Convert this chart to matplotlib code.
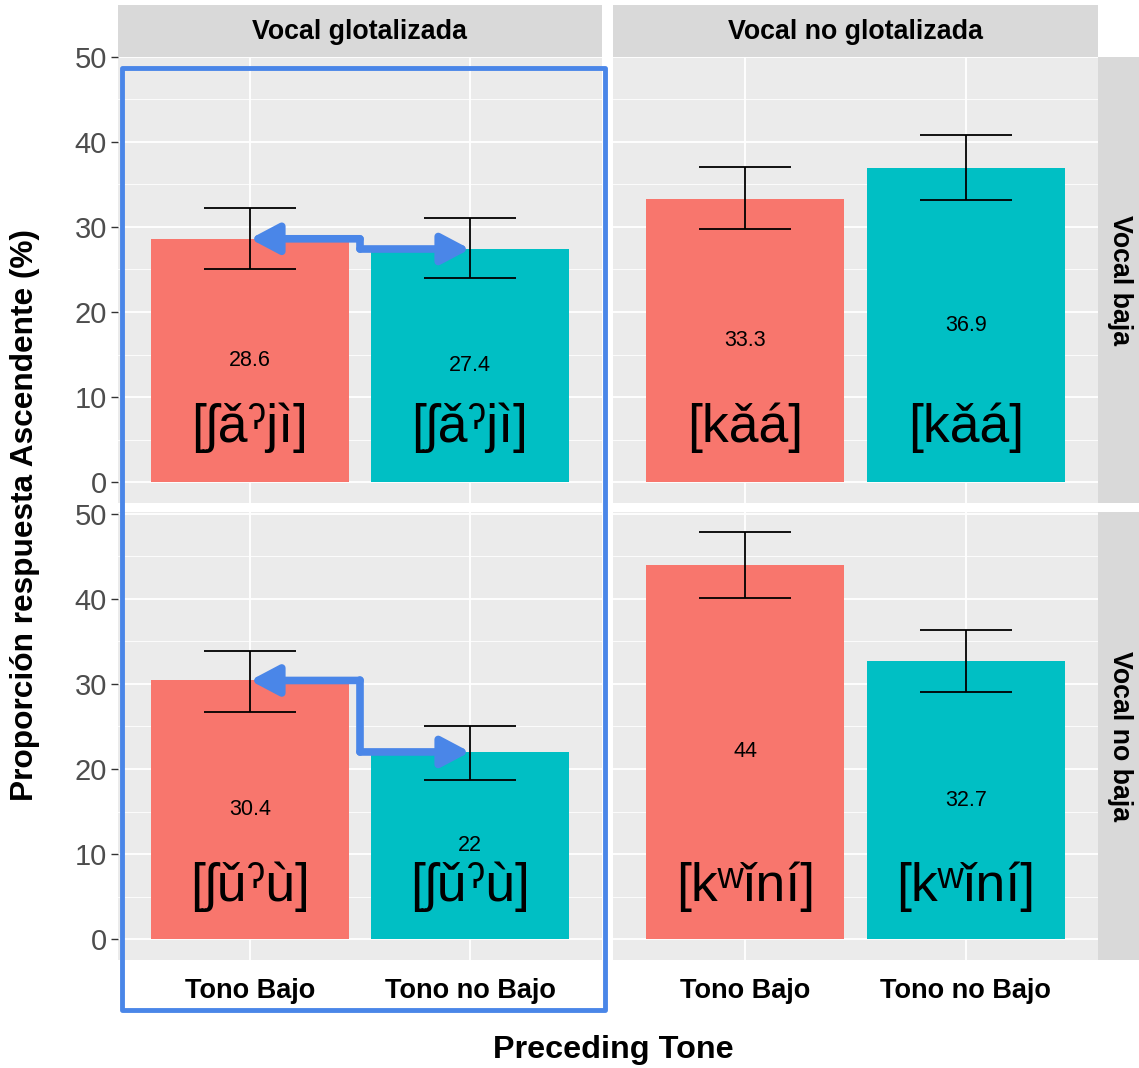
import matplotlib.pyplot as plt
from matplotlib.patches import Rectangle
import numpy as np

plt.rcParams['font.family'] = ['Liberation Sans', 'DejaVu Sans']

# data
tones = ["Tono Bajo", "Tono no Bajo"]
col_labels = ["Vocal glotalizada", "Vocal no glotalizada"]
row_labels = ["Vocal baja", "Vocal no baja"]

# [row][col] -> values for (Tono Bajo, Tono no Bajo)
means = [[[28.6, 27.4], [33.3, 36.9]],
         [[30.4, 22.0], [44.0, 32.7]]]
err_lo = [[[25.1, 24.0], [29.7, 33.2]],
          [[26.7, 18.7], [40.1, 29.1]]]
err_hi = [[[32.2, 31.0], [37.0, 40.8]],
          [[33.9, 25.1], [47.8, 36.3]]]
words = [["[ʃǎˀjì]", "[kǎá]"],
         ["[ʃǔˀù]", "[kʷǐní]"]]

bar_colors = ["#F8766D", "#00BFC4"]
blue = "#4A86E8"

W, H = 1139, 1068
fig = plt.figure(figsize=(W / 100, H / 100), dpi=100)

def fx(px):
    return px / W

def fy(py):
    return 1 - py / H

col_x = [(118, 602), (613, 1098)]
row_y = [(55, 503), (512, 960)]

x = np.arange(1, 3)
axes = [[None, None], [None, None]]
for r in range(2):
    for c in range(2):
        x0, x1 = col_x[c]
        y0, y1 = row_y[r]
        ax = fig.add_axes([fx(x0), fy(y1), fx(x1 - x0), (y1 - y0) / H])
        axes[r][c] = ax
        ax.set_facecolor("#EBEBEB")
        for s in ax.spines.values():
            s.set_visible(False)
        ax.set_xlim(0.4, 2.6)
        ax.set_ylim(-2.45, 50.2)
        for yv in np.arange(5, 50, 10):
            ax.axhline(yv, color="white", lw=0.6, zorder=0)
        for yv in np.arange(0, 51, 10):
            ax.axhline(yv, color="white", lw=1.3, zorder=0)
        for xv in x:
            ax.axvline(xv, color="white", lw=1.3, zorder=0)
        m = means[r][c]
        lo = np.array(err_lo[r][c])
        hi = np.array(err_hi[r][c])
        ax.bar(x, m, width=0.9, color=bar_colors, zorder=2)
        ax.errorbar(x, m, yerr=[np.array(m) - lo, hi - np.array(m)], fmt="none",
                    ecolor="black", elinewidth=1.3, capsize=33, capthick=1.3, zorder=3)
        for xi, v in zip(x, m):
            ax.text(xi, v / 2, f"{v:g}", ha="center", va="center", fontsize=15.5, zorder=4)
            ax.text(xi, 6.4 if r == 0 else 6.1, words[r][c], ha="center", va="center",
                    fontsize=38.5, zorder=4)
        ax.set_yticks(np.arange(0, 51, 10))
        ax.set_xticks(x)
        ax.tick_params(axis="y", colors="#333333", length=5, width=1, labelsize=21,
                       labelcolor="#4D4D4D", pad=3)
        ax.tick_params(axis="x", colors="#333333", length=0, labelsize=19.5, pad=13)
        if c == 1:
            ax.tick_params(axis="y", length=0, labelleft=False)
        if r == 0:
            ax.set_xticklabels([])
        else:
            ax.set_xticklabels(tones, fontweight="bold", color="black")

# strips on top
for c in range(2):
    x0, x1 = col_x[c]
    fig.patches.append(Rectangle((fx(x0), fy(57)), fx(x1 - x0), (57 - 5) / H,
                                 transform=fig.transFigure, facecolor="#D9D9D9",
                                 edgecolor="none", zorder=1))
    fig.text(fx((x0 + x1) / 2), fy(32), col_labels[c], ha="center", va="center",
             fontsize=19.3, fontweight="bold", color="black")

# strips on right
for r in range(2):
    y0, y1 = row_y[r]
    y0 = max(y0, 57)
    fig.patches.append(Rectangle((fx(1098), fy(y1)), fx(1139 - 1098), (y1 - y0) / H,
                                 transform=fig.transFigure, facecolor="#D9D9D9",
                                 edgecolor="none", zorder=1))
    fig.text(fx(1120), fy((y0 + y1) / 2), row_labels[r], ha="center", va="center",
             rotation=-90, fontsize=19.3, fontweight="bold", color="black")

fig.text(fx(25), fy(515), "Proporción respuesta Ascendente (%)", rotation=90,
         ha="center", va="center", fontsize=22.8, fontweight="bold")
fig.text(fx(613), fy(1050), "Preceding Tone", ha="center", va="center",
         fontsize=23.3, fontweight="bold")

# blue highlight box
fig.patches.append(Rectangle((fx(122), fy(1010)), fx(605 - 122), (1010 - 68) / H,
                             transform=fig.transFigure, facecolor="none",
                             edgecolor=blue, lw=3.5, joinstyle="round", zorder=10))

# blue step arrows on the left column
for r in range(2):
    ax = axes[r][0]
    v1, v2 = means[r][0]
    ax.plot([1.5, 1.5], [v1, v2], color=blue, lw=5.5, solid_capstyle="round", zorder=5)
    arrow = dict(arrowstyle="-|>,head_length=0.85,head_width=0.45", mutation_scale=20,
                 color=blue, lw=5.5, shrinkA=0, shrinkB=0, capstyle="round")
    ax.annotate("", xy=(1.0, v1), xytext=(1.5, v1), arrowprops=arrow, zorder=5)
    ax.annotate("", xy=(2.0, v2), xytext=(1.5, v2), arrowprops=arrow, zorder=5)

fig.savefig("out.png", dpi=100)
